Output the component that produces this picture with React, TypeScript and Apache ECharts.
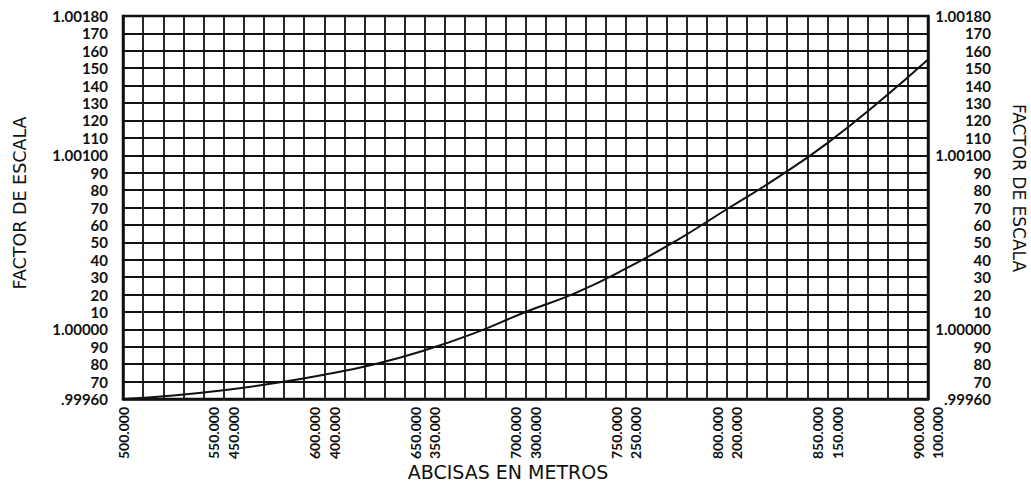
import React, { useEffect, useRef } from "react";
import * as echarts from "echarts";

// Abscissa (metres) and scale factor
const abscissas = [500000, 525000, 550000, 575000, 600000, 625000, 650000, 675000, 700000, 725000, 750000, 775000, 800000, 825000, 850000, 875000, 900000];
const scaleFactor = [0.9996, 0.99962, 0.99965, 0.99969, 0.99974, 0.9998, 0.99988, 0.99998, 1.0001, 1.00021, 1.00035, 1.00051, 1.00069, 1.00087, 1.00107, 1.0013, 1.00155];

// X tick labels (two scales, shown side by side)
const xTickValues = [500000, 550000, 600000, 650000, 700000, 750000, 800000, 850000, 900000];
const xTickPrimary = ["500.000", "550.000", "600.000", "650.000", "700.000", "750.000", "800.000", "850.000", "900.000"];
const xTickSecondary = ["", "450.000", "400.000", "350.000", "300.000", "250.000", "200.000", "150.000", "100.000"];

// Y ticks in units of 1e-5 relative to 1.00000
const yTickValues = [-40, -30, -20, -10, 0, 10, 20, 30, 40, 50, 60, 70, 80, 90, 100, 110, 120, 130, 140, 150, 160, 170, 180];
const yTickLabels = [".99960", "70", "80", "90", "1.00000", "10", "20", "30", "40", "50", "60", "70", "80", "90", "1.00100", "110", "120", "130", "140", "150", "160", "170", "1.00180"];

const INK = "#111111";

export default function App() {
  const ref = useRef<HTMLDivElement>(null);
  useEffect(() => {
    if (!ref.current) return;
    const chart = echarts.init(ref.current, undefined, { renderer: "svg" });
    const data = abscissas.map((x, i) => [x, Math.round((scaleFactor[i] - 1) * 1e5 * 100) / 100]);
    const yFmt = (v: number) => {
      const i = yTickValues.findIndex((t) => Math.abs(t - v) < 1e-6);
      return i < 0 ? "" : yTickLabels[i];
    };
    const yLabelCommon = {
      fontFamily: "Lato, 'DejaVu Sans', sans-serif",
      fontWeight: "bold" as const,
      fontSize: 15,
      color: INK,
      formatter: yFmt,
    };
    chart.setOption({
      animation: false,
      backgroundColor: "#ffffff",
      grid: {
        left: 123,
        right: 103,
        top: 16,
        bottom: 86,
        containLabel: false,
        outerBoundsMode: "none",
        show: true,
        borderColor: INK,
        borderWidth: 2.5,
      },
      xAxis: {
        type: "value",
        min: 500000,
        max: 900000,
        interval: 10000,
        axisLine: { show: true, onZero: false, lineStyle: { color: INK, width: 2.5 } },
        axisTick: { show: false },
        splitLine: { show: true, lineStyle: { color: INK, width: 1.8 } },
        axisLabel: {
          rotate: 90,
          margin: 8,
          showMinLabel: true,
          showMaxLabel: true,
          fontFamily: "Lato, 'DejaVu Sans', sans-serif",
          fontWeight: "bold",
          fontSize: 14,
          lineHeight: 19.5,
          color: INK,
          formatter: (v: number) => {
            const i = xTickValues.indexOf(Math.round(v));
            if (i < 0) return "";
            return xTickSecondary[i] ? xTickPrimary[i] + "\n" + xTickSecondary[i] : xTickPrimary[i];
          },
        },
      },
      yAxis: [
        {
          type: "value",
          position: "left",
          min: -40,
          max: 180,
          interval: 10,
          axisLine: { show: true, onZero: false, lineStyle: { color: INK, width: 2.5 } },
          axisTick: { show: false },
          splitLine: { show: true, lineStyle: { color: INK, width: 1.8 } },
          axisLabel: { ...yLabelCommon, margin: 15, showMinLabel: true, showMaxLabel: true },
        },
        {
          type: "value",
          position: "right",
          min: -40,
          max: 180,
          interval: 10,
          axisLine: { show: true, onZero: false, lineStyle: { color: INK, width: 2.5 } },
          axisTick: { show: false },
          splitLine: { show: false },
          axisLabel: { ...yLabelCommon, margin: 63, align: "right", showMinLabel: true, showMaxLabel: true },
        },
      ],
      series: [
        {
          type: "line",
          data,
          smooth: 0.5,
          showSymbol: false,
          lineStyle: { color: INK, width: 2 },
          z: 5,
        },
      ],
      graphic: [
        {
          type: "text",
          x: 508,
          y: 472,
          style: {
            text: "ABCISAS EN METROS",
            font: "19px 'DejaVu Sans', sans-serif",
            fill: INK,
            textAlign: "center",
            textVerticalAlign: "middle",
          },
        },
        {
          type: "text",
          x: 20,
          y: 203,
          rotation: Math.PI / 2,
          style: {
            text: "FACTOR DE ESCALA",
            font: "17.5px 'DejaVu Sans', sans-serif",
            fill: INK,
            textAlign: "center",
            textVerticalAlign: "middle",
          },
        },
        {
          type: "text",
          x: 1019,
          y: 188,
          rotation: -Math.PI / 2,
          style: {
            text: "FACTOR DE ESCALA",
            font: "17px 'DejaVu Sans', sans-serif",
            fill: INK,
            textAlign: "center",
            textVerticalAlign: "middle",
          },
        },
      ],
    });
    return () => chart.dispose();
  }, []);
  return (
    <div
      ref={ref}
      style={{ position: "fixed", left: 0, top: 0, width: 1031, height: 485, background: "#fff" }}
    />
  );
}
